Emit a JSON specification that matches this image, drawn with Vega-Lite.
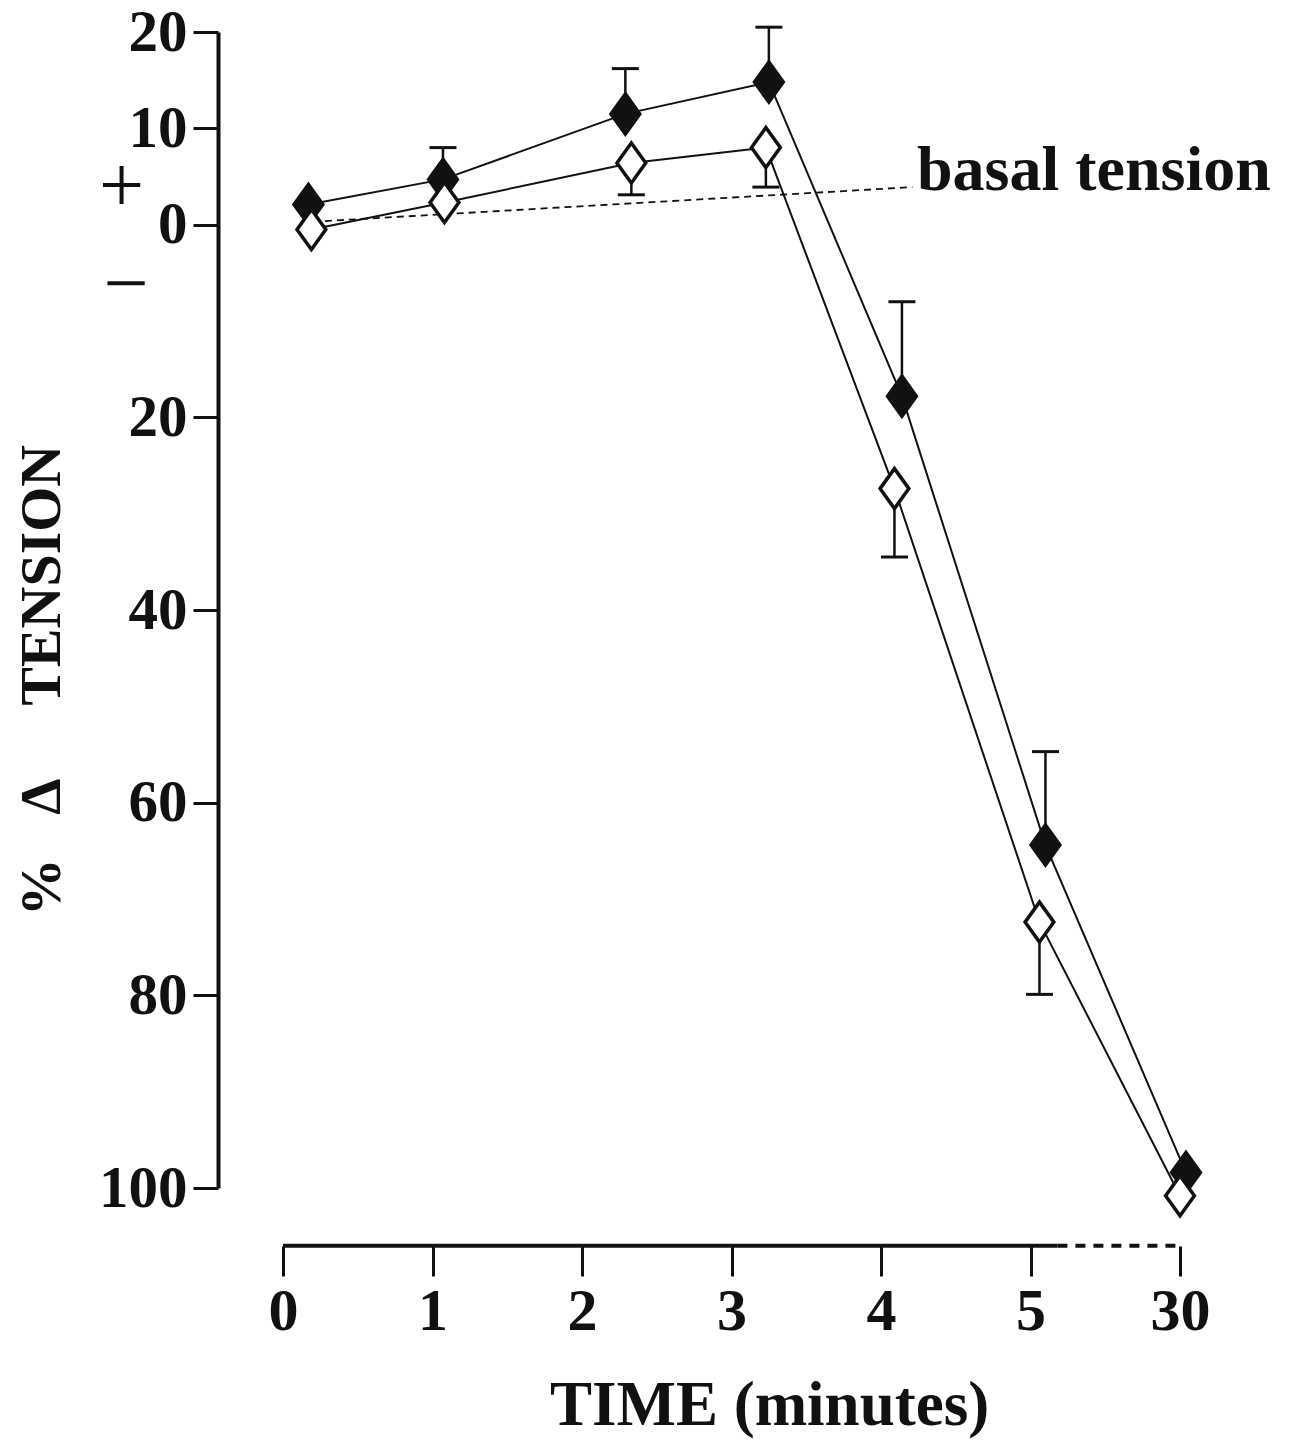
{
  "$schema": "https://vega.github.io/schema/vega-lite/v6.json",
  "width": 897,
  "height": 1156,
  "autosize": {"type": "none"},
  "padding": {"left": 283, "top": 32, "right": 116, "bottom": 265},
  "background": "white",
  "config": {
    "view": {"stroke": null},
    "font": "Liberation Serif",
    "axis": {"labelFont": "Liberation Serif", "titleFont": "Liberation Serif", "labelFontWeight": "bold", "titleFontWeight": "bold", "labelColor": "#111", "titleColor": "#111", "tickColor": "#111", "domainColor": "#111", "grid": false, "labelFlush": false}
  },
  "datasets": {
    "pts": [
      {"t": 0.17, "v": 2.1, "series": "filled"},
      {"t": 1.07, "v": 4.7, "series": "filled"},
      {"t": 2.29, "v": 11.5, "series": "filled"},
      {"t": 3.25, "v": 14.8, "series": "filled"},
      {"t": 4.14, "v": -17.8, "series": "filled"},
      {"t": 5.1, "v": -64.4, "series": "filled"},
      {"t": 6.04, "v": -98.4, "series": "filled"},
      {"t": 0.19, "v": -0.5, "series": "open"},
      {"t": 1.08, "v": 2.3, "series": "open"},
      {"t": 2.33, "v": 6.4, "series": "open"},
      {"t": 3.23, "v": 8.0, "series": "open"},
      {"t": 4.09, "v": -27.4, "series": "open"},
      {"t": 5.06, "v": -72.4, "series": "open"},
      {"t": 6.0, "v": -100.8, "series": "open"}
    ],
    "err": [
      {"t": 1.07, "v": 4.7, "e": 8.0, "series": "filled"},
      {"t": 2.29, "v": 11.5, "e": 16.2, "series": "filled"},
      {"t": 3.25, "v": 14.8, "e": 20.5, "series": "filled"},
      {"t": 4.14, "v": -17.8, "e": -8.0, "series": "filled"},
      {"t": 5.1, "v": -64.4, "e": -54.7, "series": "filled"},
      {"t": 2.33, "v": 6.4, "e": 3.1, "series": "open"},
      {"t": 3.23, "v": 8.0, "e": 3.9, "series": "open"},
      {"t": 4.09, "v": -27.4, "e": -34.5, "series": "open"},
      {"t": 5.06, "v": -72.4, "e": -79.9, "series": "open"}
    ],
    "basal": [
      {"t": 0.2, "v": 0.3},
      {"t": 4.21, "v": 3.9}
    ],
    "notes": [
      {"t": 4.24, "v": 3.6, "label": "basal tension"}
    ],
    "signs": [
      {"t": -1.08, "v": 3.8, "label": "+"},
      {"t": -1.05, "v": -6.4, "label": "−"}
    ],
    "xaxis": [
      {"a": 0, "b": 5.18, "v": -106, "kind": "solid"},
      {"a": 5.18, "b": 6.0, "v": -106, "kind": "dashed"}
    ]
  },
  "layer": [
    {
      "data": {"name": "basal"},
      "mark": {"type": "line", "color": "#111", "strokeWidth": 1.8, "strokeDash": [7, 5]},
      "encoding": {
        "x": {"field": "t", "type": "quantitative", "scale": {"domain": [0, 6], "nice": false, "zero": false},
          "axis": {"values": [0, 1, 2, 3, 4, 5, 6], "labelExpr": "datum.value === 6 ? '30' : format(datum.value, 'd')", "domain": false, "offset": 58, "tickSize": 30, "tickWidth": 3, "labelFontSize": 60, "labelPadding": 6, "title": "TIME (minutes)", "titleFontSize": 63, "titleX": 486, "titleY": 159, "titleBaseline": "middle", "titleAnchor": "middle"}},
        "y": {"field": "v", "type": "quantitative", "scale": {"domain": [-100, 20], "nice": false, "zero": false},
          "axis": {"values": [20, 10, 0, -20, -40, -60, -80, -100], "labelExpr": "format(abs(datum.value), 'd')", "offset": 65, "domainWidth": 4, "tickSize": 25, "tickWidth": 3, "labelFontSize": 59, "labelPadding": 6, "labelBaseline": "middle", "title": "%\u00a0\u00a0\u00a0Δ\u00a0\u00a0\u00a0\u00a0\u00a0TENSION", "titleFontSize": 58, "titleAngle": -90, "titleX": -176, "titleY": 648, "titleBaseline": "middle", "titleAnchor": "middle"}}
      }
    },
    {
      "data": {"name": "pts"},
      "mark": {"type": "line", "color": "#111", "strokeWidth": 2},
      "encoding": {
        "x": {"field": "t", "type": "quantitative"},
        "y": {"field": "v", "type": "quantitative"},
        "detail": {"field": "series"}
      }
    },
    {
      "data": {"name": "err"},
      "mark": {"type": "rule", "color": "#111", "strokeWidth": 2.5},
      "encoding": {
        "x": {"field": "t", "type": "quantitative"},
        "y": {"field": "v", "type": "quantitative"},
        "y2": {"field": "e"}
      }
    },
    {
      "data": {"name": "err"},
      "mark": {"type": "point", "shape": "stroke", "size": 729, "color": "#111", "strokeWidth": 3, "filled": false, "opacity": 1},
      "encoding": {
        "x": {"field": "t", "type": "quantitative"},
        "y": {"field": "e", "type": "quantitative"}
      }
    },
    {
      "data": {"name": "pts"},
      "mark": {"type": "point", "shape": "M0,-1L0.72,0L0,1L-0.72,0Z", "size": 1600, "stroke": "#111", "strokeWidth": 3.5, "opacity": 1},
      "encoding": {
        "x": {"field": "t", "type": "quantitative"},
        "y": {"field": "v", "type": "quantitative"},
        "fill": {"field": "series", "type": "nominal", "scale": {"domain": ["filled", "open"], "range": ["#111", "white"]}, "legend": null}
      }
    },
    {
      "data": {"name": "notes"},
      "mark": {"type": "text", "align": "left", "baseline": "alphabetic", "font": "Liberation Serif", "fontWeight": "bold", "fontSize": 64, "color": "#111"},
      "encoding": {
        "x": {"field": "t", "type": "quantitative"},
        "y": {"field": "v", "type": "quantitative"},
        "text": {"field": "label"}
      }
    },
    {
      "data": {"name": "signs"},
      "mark": {"type": "text", "align": "center", "baseline": "middle", "font": "Liberation Serif", "fontWeight": "normal", "fontSize": 80, "color": "#111"},
      "encoding": {
        "x": {"field": "t", "type": "quantitative"},
        "y": {"field": "v", "type": "quantitative"},
        "text": {"field": "label"}
      }
    },
    {
      "data": {"name": "xaxis"},
      "transform": [{"filter": "datum.kind === 'solid'"}],
      "mark": {"type": "rule", "color": "#111", "strokeWidth": 4},
      "encoding": {
        "x": {"field": "a", "type": "quantitative"},
        "x2": {"field": "b"},
        "y": {"field": "v", "type": "quantitative"}
      }
    },
    {
      "data": {"name": "xaxis"},
      "transform": [{"filter": "datum.kind === 'dashed'"}],
      "mark": {"type": "rule", "color": "#111", "strokeWidth": 4, "strokeDash": [10, 8]},
      "encoding": {
        "x": {"field": "a", "type": "quantitative"},
        "x2": {"field": "b"},
        "y": {"field": "v", "type": "quantitative"}
      }
    }
  ]
}
